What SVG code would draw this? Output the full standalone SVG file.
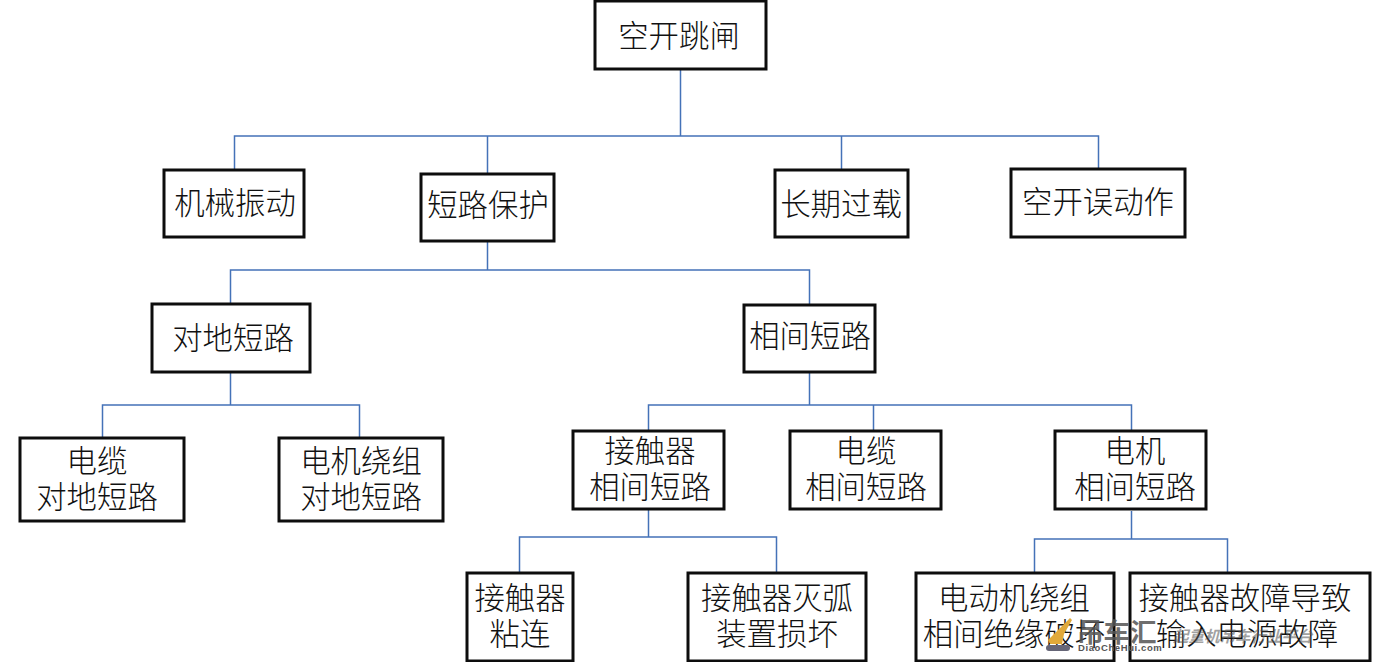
<svg xmlns="http://www.w3.org/2000/svg" width="1380" height="662" viewBox="0 0 1380 662">
<style>
.n{fill:#fff;stroke:#0d0d0d;stroke-width:3}
.t{font-family:"Noto Sans CJK SC","Liberation Sans",sans-serif;font-size:30.4px;font-weight:300;fill:#111;text-anchor:middle}
.c{fill:none;stroke:#4472b8;stroke-width:1.5}
.w{font-family:"Noto Sans CJK SC","Liberation Sans",sans-serif;fill:#555;font-weight:700}
</style>
<rect width="1380" height="662" fill="#fff"/>
<g id="connectors">
<path class="c" d="M680.500 69V136M234.500 169V136H1098.500V169M487.500 136V174M841.500 136V170"/>
<path class="c" d="M487.500 241V270M230.500 304V270H809.500V305"/>
<path class="c" d="M230.500 372V405M102.500 438V405H359.500V438"/>
<path class="c" d="M809.500 372V405M648.500 431V405H1131.500V431M873.500 405V431"/>
<path class="c" d="M648.500 509V537M519.500 572V537H776.500V572"/>
<path class="c" d="M1131.500 511V539M1034.500 572V539H1227.500V572"/>
</g>
<g id="n1"><rect class="n" x="595" y="1" width="171" height="68"/><text class="t" x="679" y="47">空开跳闸</text></g>
<g id="n2"><rect class="n" x="164" y="170" width="140" height="67"/><text class="t" x="235" y="214">机械振动</text></g>
<g id="n3"><rect class="n" x="421" y="174" width="133" height="67"/><text class="t" x="488" y="216">短路保护</text></g>
<g id="n4"><rect class="n" x="775" y="170" width="133" height="67"/><text class="t" x="841" y="215">长期过载</text></g>
<g id="n5"><rect class="n" x="1011" y="169" width="174" height="68"/><text class="t" x="1098" y="213">空开误动作</text></g>
<g id="n6"><rect class="n" x="152" y="304" width="158" height="68"/><text class="t" x="233" y="349">对地短路</text></g>
<g id="n7"><rect class="n" x="744" y="305" width="131" height="67"/><text class="t" x="810" y="347">相间短路</text></g>
<g id="n8"><rect class="n" x="20" y="438" width="164" height="83"/><text class="t" x="97" y="472">电缆</text><text class="t" x="97" y="508">对地短路</text></g>
<g id="n9"><rect class="n" x="279" y="438" width="164" height="83"/><text class="t" x="361" y="472">电机绕组</text><text class="t" x="361" y="508">对地短路</text></g>
<g id="n10"><rect class="n" x="573" y="431" width="151" height="78"/><text class="t" x="650" y="462">接触器</text><text class="t" x="650" y="498">相间短路</text></g>
<g id="n11"><rect class="n" x="790" y="431" width="151" height="78"/><text class="t" x="866" y="462">电缆</text><text class="t" x="866" y="498">相间短路</text></g>
<g id="n12"><rect class="n" x="1055" y="431" width="151" height="78"/><text class="t" x="1135" y="462">电机</text><text class="t" x="1135" y="498">相间短路</text></g>
<g id="n13"><rect class="n" x="467" y="573" width="106" height="88"/><text class="t" x="520" y="609">接触器</text><text class="t" x="520" y="645">粘连</text></g>
<g id="n14"><rect class="n" x="688" y="573" width="178" height="88"/><text class="t" x="777" y="609">接触器灭弧</text><text class="t" x="777" y="645">装置损坏</text></g>
<g id="n15"><rect class="n" x="916" y="573" width="198" height="88"/><text class="t" x="1014" y="609">电动机绕组</text><text class="t" x="1014" y="645">相间绝缘破坏</text></g>
<g id="n16"><rect class="n" x="1130" y="573" width="240" height="88"/><text class="t" x="1245" y="609">接触器故障导致</text><text class="t" x="1247" y="645">输入电源故障</text></g>
<g id="watermark">
<path d="M1048 640L1060 628L1070 618L1072 620L1064 634L1062 644H1050Z" fill="#e0a93a"/>
<rect x="1046" y="645" width="24" height="6" rx="3" fill="#667"/>
<text class="w" x="1077" y="642" font-size="26.500" opacity=".85">吊车汇</text>
<text x="1078" y="651" font-size="9.500" font-weight="700" fill="#555" font-family="Liberation Sans,sans-serif" letter-spacing=".6">DiaoCheHui.com</text>
<text class="w" x="1173" y="642" font-size="15.500" font-style="italic" opacity=".55">起重机吊车行业平台</text>
</g>
</svg>
